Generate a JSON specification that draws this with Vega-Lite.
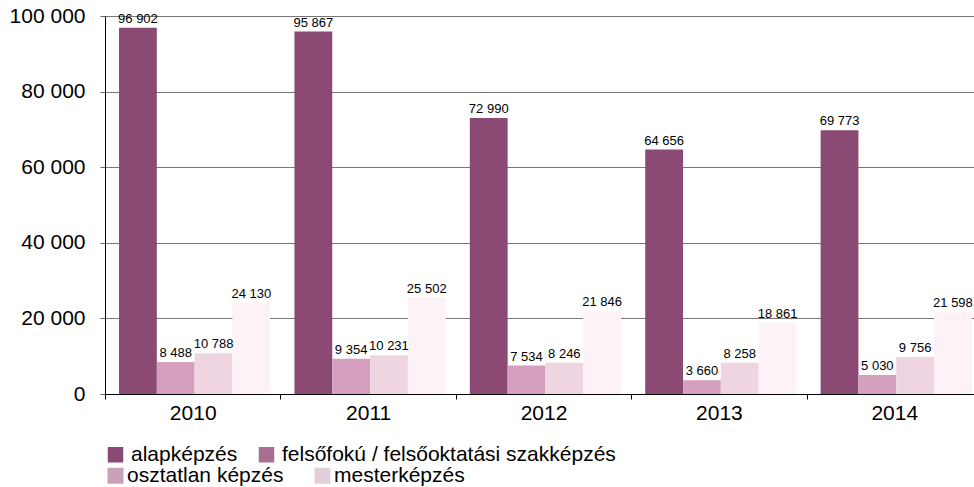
{
  "$schema": "https://vega.github.io/schema/vega-lite/v6.json",
  "width": 877,
  "height": 378,
  "autosize": {"type": "none"},
  "padding": {"left": 105, "top": 16, "right": -8, "bottom": 93},
  "config": {
    "locale": {"number": {"decimal": ",", "thousands": " ", "grouping": [3], "currency": ["", ""]}},
    "view": {"stroke": null},
    "font": "Liberation Sans"
  },
  "data": {
    "values": [
      {"ev": "2010", "kepzes": "alapképzés", "letszam": 96902},
      {"ev": "2010", "kepzes": "felsőfokú / felsőoktatási szakképzés", "letszam": 8488},
      {"ev": "2010", "kepzes": "osztatlan képzés", "letszam": 10788},
      {"ev": "2010", "kepzes": "mesterképzés", "letszam": 24130},
      {"ev": "2011", "kepzes": "alapképzés", "letszam": 95867},
      {"ev": "2011", "kepzes": "felsőfokú / felsőoktatási szakképzés", "letszam": 9354},
      {"ev": "2011", "kepzes": "osztatlan képzés", "letszam": 10231},
      {"ev": "2011", "kepzes": "mesterképzés", "letszam": 25502},
      {"ev": "2012", "kepzes": "alapképzés", "letszam": 72990},
      {"ev": "2012", "kepzes": "felsőfokú / felsőoktatási szakképzés", "letszam": 7534},
      {"ev": "2012", "kepzes": "osztatlan képzés", "letszam": 8246},
      {"ev": "2012", "kepzes": "mesterképzés", "letszam": 21846},
      {"ev": "2013", "kepzes": "alapképzés", "letszam": 64656},
      {"ev": "2013", "kepzes": "felsőfokú / felsőoktatási szakképzés", "letszam": 3660},
      {"ev": "2013", "kepzes": "osztatlan képzés", "letszam": 8258},
      {"ev": "2013", "kepzes": "mesterképzés", "letszam": 18861},
      {"ev": "2014", "kepzes": "alapképzés", "letszam": 69773},
      {"ev": "2014", "kepzes": "felsőfokú / felsőoktatási szakképzés", "letszam": 5030},
      {"ev": "2014", "kepzes": "osztatlan képzés", "letszam": 9756},
      {"ev": "2014", "kepzes": "mesterképzés", "letszam": 21598}
    ]
  },
  "encoding": {
    "x": {
      "field": "ev", "type": "nominal",
      "scale": {"paddingInner": 0, "paddingOuter": 0},
      "axis": {
        "title": null, "labelAngle": 0, "tickBand": "extent",
        "labelFontSize": 21, "labelColor": "#000", "labelPadding": 3,
        "domainColor": "#000", "tickColor": "#000", "tickSize": 5, "grid": false
      }
    },
    "xOffset": {
      "field": "kepzes", "type": "nominal",
      "sort": ["alapképzés", "felsőfokú / felsőoktatási szakképzés", "osztatlan képzés", "mesterképzés"],
      "scale": {"paddingInner": 0, "paddingOuter": 0.32, "align": 0.58}
    },
    "y": {
      "field": "letszam", "type": "quantitative",
      "scale": {"domain": [0, 100000], "nice": false},
      "axis": {
        "title": null, "values": [0, 20000, 40000, 60000, 80000, 100000], "format": ",d",
        "labelFontSize": 21, "labelColor": "#000", "labelPadding": 15,
        "domainColor": "#000", "tickColor": "#666", "tickSize": 5,
        "gridColor": "#777", "gridWidth": 1
      }
    }
  },
  "layer": [
    {
      "mark": {"type": "bar"},
      "encoding": {
        "color": {
          "field": "kepzes", "type": "nominal",
          "scale": {
            "domain": ["alapképzés", "felsőfokú / felsőoktatási szakképzés", "osztatlan képzés", "mesterképzés"],
            "range": ["#8B4A73", "#D59FBE", "#EFD4E1", "#FCF2F7"]
          },
          "legend": null
        }
      }
    },
    {
      "transform": [{"filter": {"field": "kepzes", "oneOf": ["alapképzés", "felsőfokú / felsőoktatási szakképzés"]}}],
      "mark": {"type": "bar", "opacity": 0},
      "encoding": {
        "fill": {
          "field": "kepzes", "type": "nominal",
          "scale": {
            "domain": ["alapképzés", "felsőfokú / felsőoktatási szakképzés"],
            "range": ["#8B4A74", "#A87090"]
          },
          "legend": {
            "title": null, "orient": "none", "legendX": 0, "legendY": 428,
            "direction": "horizontal",
            "symbolType": "square", "symbolSize": 240, "symbolStrokeWidth": 0, "symbolOpacity": 1,
            "labelFontSize": 21, "labelColor": "#000", "labelOffset": 5,
            "columnPadding": 18, "labelLimit": 600
          }
        }
      }
    },
    {
      "transform": [{"filter": {"field": "kepzes", "oneOf": ["osztatlan képzés", "mesterképzés"]}}],
      "mark": {"type": "bar", "opacity": 0},
      "encoding": {
        "stroke": {
          "field": "kepzes", "type": "nominal",
          "scale": {
            "domain": ["osztatlan képzés", "mesterképzés"],
            "range": ["#C8A0B8", "#E3CEDB"]
          },
          "legend": {
            "title": null, "orient": "none", "legendX": 0, "legendY": 449,
            "direction": "horizontal",
            "symbolType": "square", "symbolSize": 64, "symbolStrokeWidth": 8, "symbolOpacity": 1,
            "labelFontSize": 21, "labelColor": "#000", "labelOffset": 1,
            "columnPadding": 18, "labelLimit": 600
          }
        }
      }
    },
    {
      "mark": {"type": "text", "baseline": "alphabetic", "dy": -5, "fontSize": 13, "font": "Liberation Sans", "color": "#000"},
      "encoding": {
        "text": {"field": "letszam", "type": "quantitative", "format": ",d"}
      }
    }
  ]
}
